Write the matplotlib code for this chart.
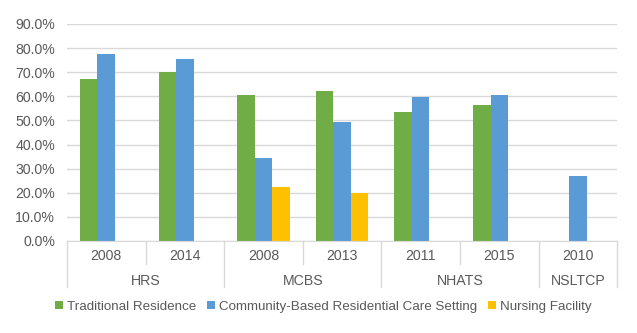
import matplotlib.pyplot as plt
import numpy as np
from matplotlib.ticker import FuncFormatter

plt.rcParams['font.family'] = ['Liberation Sans', 'DejaVu Sans']

# Data (percent), NaN = not reported
years = ["2008", "2014", "2008", "2013", "2011", "2015", "2010"]
surveys = ["HRS", "MCBS", "NHATS", "NSLTCP"]
survey_sizes = [2, 2, 2, 1]
traditional = [67.0, 70.0, 60.5, 62.0, 53.3, 56.4, np.nan]
community = [77.5, 75.3, 34.3, 49.5, 59.9, 60.6, 26.9]
nursing = [np.nan, np.nan, 22.3, 20.0, np.nan, np.nan, np.nan]

series = [("Traditional Residence", traditional, "#70AD47"),
          ("Community-Based Residential Care Setting", community, "#5B9BD5"),
          ("Nursing Facility", nursing, "#FFC000")]

text_color = "#595959"
line_color = "#D9D9D9"

fig = plt.figure(figsize=(6.37, 3.33), dpi=100)
ax = fig.add_axes([0.105, 0.2763, 0.864, 0.6517])

x = np.arange(len(years))
width = 0.223
for i, (name, vals, color) in enumerate(series):
    ax.bar(x + (i - 1) * width, vals, width, color=color, label=name, zorder=2)

ax.set_ylim(0, 90)
ax.set_xlim(-0.5, len(years) - 0.5)
ax.set_yticks(np.arange(0, 91, 10))
ax.yaxis.set_major_formatter(FuncFormatter(lambda v, p: f"{v:.1f}%"))
ax.tick_params(axis="y", length=0, labelsize=10.2, labelcolor=text_color, pad=8.5)
ax.set_xticks([])
ax.grid(axis="y", color=line_color, linewidth=1, zorder=0)
for s in ["top", "right", "left"]:
    ax.spines[s].set_visible(False)
ax.spines["bottom"].set_color(line_color)

# two-level category axis
trans = ax.get_xaxis_transform()
for xi, yr in zip(x, years):
    ax.text(xi, -0.069, yr, transform=trans, ha="center", va="center",
            fontsize=10.2, color=text_color)

bounds = np.concatenate([[0], np.cumsum(survey_sizes)]) - 0.5
for b in bounds:
    ax.plot([b, b], [0, -0.212], transform=trans, color=line_color,
            linewidth=1, clip_on=False)
for start, end, name in zip(bounds[:-1], bounds[1:], surveys):
    for inner in np.arange(start + 1, end):
        ax.plot([inner, inner], [0, -0.106], transform=trans, color=line_color,
                linewidth=1, clip_on=False)
    ax.text((start + end) / 2, -0.184, name, transform=trans, ha="center",
            va="center", fontsize=10.2, color=text_color)

fig.legend(loc="center", bbox_to_anchor=(0.507, 0.079), ncol=3, frameon=False,
           fontsize=9.6, labelcolor=text_color, handlelength=0.6,
           handleheight=0.6, handletextpad=0.3, columnspacing=0.8)

fig.savefig("out.png", dpi=100)
